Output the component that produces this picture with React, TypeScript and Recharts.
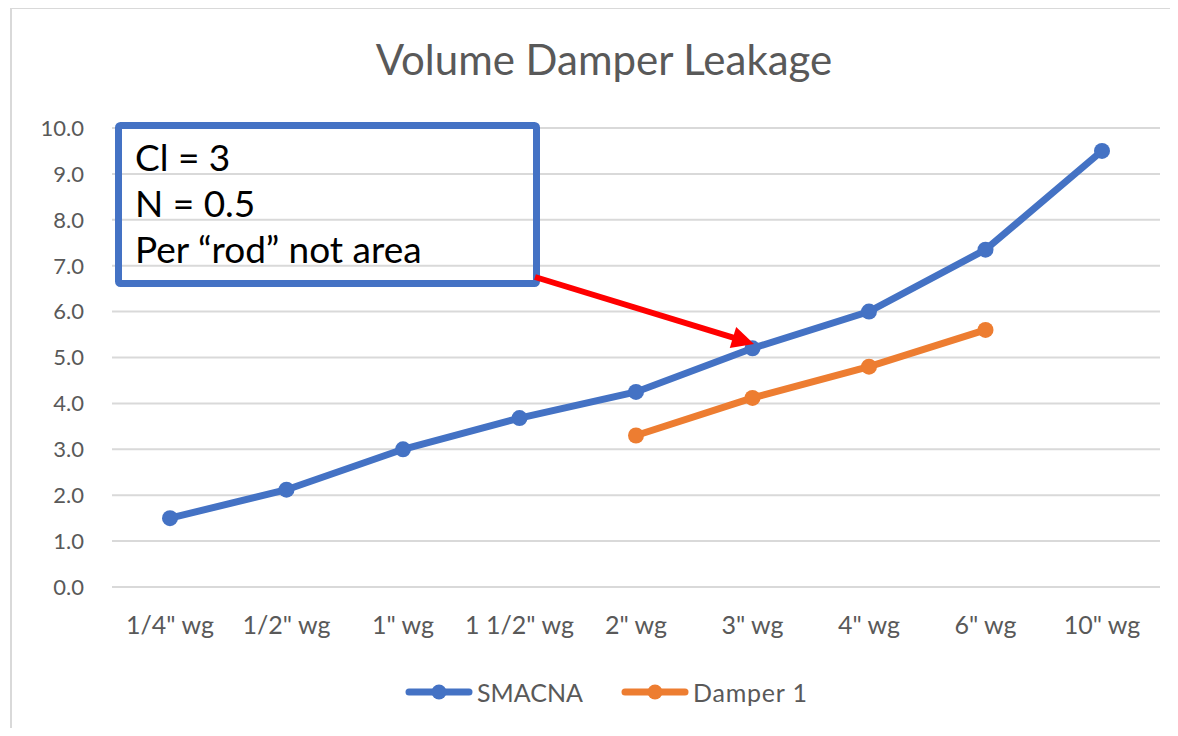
import { LineChart, Line, XAxis, YAxis, CartesianGrid, Legend } from "recharts";

const categories = ['1/4" wg', '1/2" wg', '1" wg', '1 1/2" wg', '2" wg', '3" wg', '4" wg', '6" wg', '10" wg'];
const smacna = [1.5, 2.12, 3.0, 3.68, 4.25, 5.2, 6.0, 7.35, 9.5];
const damper1 = [null, null, null, null, 3.3, 4.12, 4.8, 5.6, null];
const yTicks = [0, 1, 2, 3, 4, 5, 6, 7, 8, 9, 10];

const seriesNames = ["SMACNA", "Damper 1"];
const seriesColors = ["#4472C4", "#ED7D31"];

const noteLines = ["Cl = 3", "N = 0.5", "Per \u201crod\u201d not area"];

const data = categories.map((c, i) => ({
  name: c,
  SMACNA: smacna[i],
  "Damper 1": damper1[i],
}));

const FONT = "Lato, 'Open Sans', sans-serif";
const TEXT = "#595959";

const LegendIcon = ({ color }: { color: string }) => (
  <svg width={68} height={20} style={{ display: "block" }}>
    <line x1={4} y1={10} x2={64} y2={10} stroke={color} strokeWidth={7} strokeLinecap="round" />
    <circle cx={34} cy={10} r={7.5} fill={color} />
  </svg>
);

const renderLegend = () => (
  <div style={{ position: "relative", height: 0 }}>
    <div style={{ position: "absolute", left: 397, top: 0, display: "flex", alignItems: "center", fontFamily: FONT, fontSize: 25, color: TEXT, whiteSpace: "nowrap" }}>
      {seriesNames.map((n, i) => (
        <div key={n} style={{ display: "flex", alignItems: "center", marginRight: i === 0 ? 38 : 0 }}>
          <LegendIcon color={seriesColors[i]} />
          <span style={{ marginLeft: 4, letterSpacing: i === 1 ? 0.8 : 0 }}>{n}</span>
        </div>
      ))}
    </div>
  </div>
);

// annotation arrow geometry (chart pixel space)
const arrowFrom = { x: 527, y: 269 };
const arrowTo = { x: 746, y: 336 };

const Arrow = () => {
  const dx = arrowTo.x - arrowFrom.x;
  const dy = arrowTo.y - arrowFrom.y;
  const len = Math.sqrt(dx * dx + dy * dy);
  const ux = dx / len;
  const uy = dy / len;
  const head = 22;
  const half = 11;
  const bx = arrowTo.x - ux * head;
  const by = arrowTo.y - uy * head;
  const pts = [
    [arrowTo.x, arrowTo.y],
    [bx - uy * half, by + ux * half],
    [bx + uy * half, by - ux * half],
  ]
    .map((p) => p.join(","))
    .join(" ");
  return (
    <g>
      <line x1={arrowFrom.x} y1={arrowFrom.y} x2={bx + ux * 2} y2={by + uy * 2} stroke="#FF0000" strokeWidth={6} />
      <polygon points={pts} fill="#FF0000" />
    </g>
  );
};

export default function App() {
  return (
    <div style={{ position: "relative", width: 1170, height: 728, marginBottom: -8, background: "#fff" }}>
      <div style={{ position: "absolute", left: 2, top: -1, right: 0, bottom: 0, borderLeft: "2px solid #D9D9D9", borderTop: "2px solid #D9D9D9" }} />
      <LineChart width={1170} height={728} data={data} margin={{ top: 120, right: 18, left: 34, bottom: 89 }}>
        <CartesianGrid vertical={false} stroke="#D9D9D9" strokeWidth={2} />
        <XAxis
          dataKey="name"
          axisLine={false}
          tickLine={false}
          tickSize={0}
          tickMargin={29}
          height={60}
          interval={0}
          padding={{ left: 58, right: 58 }}
          tick={{ fill: TEXT, fontSize: 25, fontFamily: FONT }}
        />
        <YAxis
          domain={[0, 10]}
          ticks={yTicks}
          width={70}
          axisLine={false}
          tickLine={false}
          tickSize={0}
          tickMargin={28}
          tickFormatter={(v: number) => v.toFixed(1)}
          tick={{ fill: TEXT, fontSize: 22, fontFamily: FONT }}
        />
        <Legend content={renderLegend} wrapperStyle={{ top: 669, left: 0, width: 1170, height: 0 }} />
        <Line
          type="linear"
          dataKey="SMACNA"
          stroke={seriesColors[0]}
          strokeWidth={7}
          dot={{ r: 8, fill: seriesColors[0], stroke: seriesColors[0], strokeWidth: 0 }}
          isAnimationActive={false}
        />
        <Line
          type="linear"
          dataKey="Damper 1"
          stroke={seriesColors[1]}
          strokeWidth={7}
          dot={{ r: 8, fill: seriesColors[1], stroke: seriesColors[1], strokeWidth: 0 }}
          isAnimationActive={false}
        />
      </LineChart>
      <svg width={1170} height={728} style={{ position: "absolute", left: 0, top: 0, pointerEvents: "none" }}>
        <text x={596} y={67} textAnchor="middle" fontFamily={FONT} fontSize={42} fill={TEXT}>
          Volume Damper Leakage
        </text>
        <rect x={110.5} y={117.5} width={418} height={158} rx={2} fill="none" stroke="#4472C4" strokeWidth={7} />
        {noteLines.map((t, i) => (
          <text key={t} x={127} y={163 + i * 46} fontFamily={FONT} fontSize={37} fill="#000">
            {t}
          </text>
        ))}
        <Arrow />
      </svg>
    </div>
  );
}
